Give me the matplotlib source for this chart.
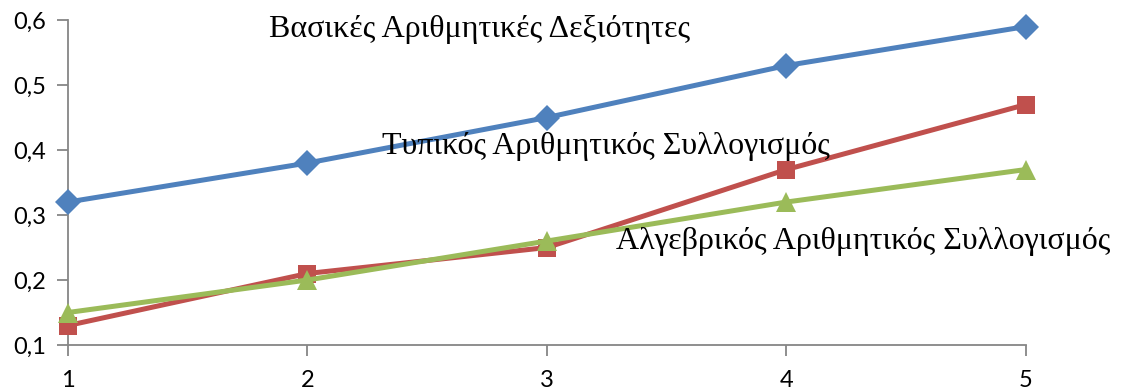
import matplotlib.pyplot as plt
from matplotlib.ticker import FuncFormatter

# data
x_vals = [1, 2, 3, 4, 5]
basic_skills = [0.32, 0.38, 0.45, 0.53, 0.59]
typical_reasoning = [0.13, 0.21, 0.25, 0.37, 0.47]
algebraic_reasoning = [0.15, 0.20, 0.26, 0.32, 0.37]

labels = ['Βασικές Αριθμητικές Δεξιότητες',
          'Τυπικός Αριθμητικός Συλλογισμός',
          'Αλγεβρικός Αριθμητικός Συλλογισμός']
label_pos = [(1.84, 0.585), (2.31, 0.405), (3.29, 0.26)]
y_ticks = [0.1, 0.2, 0.3, 0.4, 0.5, 0.6]

fig = plt.figure(figsize=(11.22, 3.92), dpi=100)
ax = fig.add_axes([0.0606, 0.1199, 0.8538, 0.829])

series = [
    (basic_skills, '#4F81BD', 'D', 13),
    (typical_reasoning, '#C0504D', 's', 13),
    (algebraic_reasoning, '#9BBB59', '^', 14),
]
for vals, col, mk, ms in series:
    ax.plot(x_vals, vals, color=col, linewidth=3.6, marker=mk,
            markersize=ms, markeredgewidth=0, clip_on=False, zorder=3)

for txt, (tx, ty) in zip(labels, label_pos):
    ax.text(tx, ty, txt, fontsize=23, family='Liberation Serif',
            va='center', ha='left', zorder=4)

ax.set_xlim(1, 5)
ax.set_ylim(0.1, 0.6)
ax.set_xticks(x_vals)
ax.set_yticks(y_ticks)
ax.yaxis.set_major_formatter(FuncFormatter(lambda v, p: f'{v:.1f}'.replace('.', ',')))

for side in ['top', 'right']:
    ax.spines[side].set_visible(False)
for side in ['left', 'bottom']:
    ax.spines[side].set_color('#868686')
    ax.spines[side].set_linewidth(1.3)
ax.tick_params(colors='#868686', width=1.3, length=8, labelcolor='black',
               labelsize=17)
ax.tick_params(axis='x', pad=10)
ax.tick_params(axis='y', pad=8)
for lab in ax.get_xticklabels() + ax.get_yticklabels():
    lab.set_family('Lato')

plt.savefig('out.png', dpi=100)
